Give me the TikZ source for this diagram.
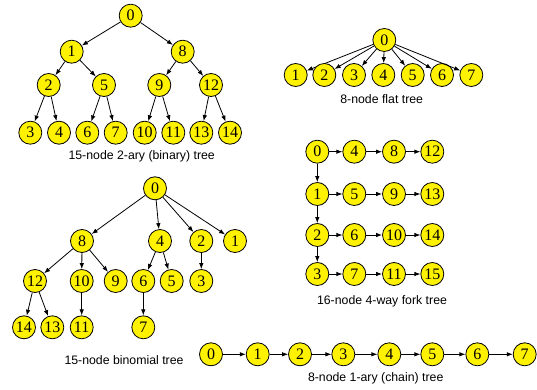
\documentclass[tikz,border=0pt]{standalone}
\usepackage{fontspec}
\setmainfont{Liberation Serif}
\setsansfont{Liberation Sans}
\usetikzlibrary{arrows.meta}
\tikzset{
  tn/.style={circle, draw=black, line width=0.8pt, fill=yellow, minimum size=23pt, inner sep=0pt, font=\fontsize{16}{16}\selectfont\rmfamily},
  captxt/.style={font=\fontsize{12.3}{14}\selectfont\sffamily, inner sep=0pt},
  ar/.style={-{Latex[length=6pt,width=4.5pt]}, line width=0.8pt}
}
\begin{document}
\begin{tikzpicture}[x=1pt,y=-1pt]
\useasboundingbox (0,0) rectangle (537,390);
% binary tree
\node[tn] (b0) at (130.7,15.7) {0};
\node[tn] (b1) at (71.7,51.7) {1};
\node[tn] (b8) at (182.7,51.7) {8};
\node[tn] (b2) at (48.7,85) {2};
\node[tn] (b5) at (104,85) {5};
\node[tn] (b9) at (159.3,85) {9};
\node[tn] (b12) at (211,85) {12};
\node[tn] (b3) at (30.3,132.7) {3};
\node[tn] (b4) at (59,132.7) {4};
\node[tn] (b6) at (87.3,132.7) {6};
\node[tn] (b7) at (115.7,132.7) {7};
\node[tn] (b10) at (144.7,132.7) {10};
\node[tn] (b11) at (173.3,132.7) {11};
\node[tn] (b13) at (201.3,132.7) {13};
\node[tn] (b14) at (230,132.7) {14};
\node[captxt] (bc) at (141.7,156.7) {15-node 2-ary (binary) tree};
\draw[ar] (b0) -- (b1); \draw[ar] (b0) -- (b8);
\draw[ar] (b1) -- (b2); \draw[ar] (b1) -- (b5);
\draw[ar] (b8) -- (b9); \draw[ar] (b8) -- (b12);
\draw[ar] (b2) -- (b3); \draw[ar] (b2) -- (b4);
\draw[ar] (b5) -- (b6); \draw[ar] (b5) -- (b7);
\draw[ar] (b9) -- (b10); \draw[ar] (b9) -- (b11);
\draw[ar] (b12) -- (b13); \draw[ar] (b12) -- (b14);
% flat tree
\node[tn] (f0) at (384.3,40) {0};
\foreach \i/\x in {1/295.7,2/324.3,3/354,4/383.3,5/412.7,6/442,7/471.3}{
  \node[tn] (f\i) at (\x,75) {\i};
  \draw[ar] (f0) -- (f\i);
}
\node[captxt] (fc) at (381.7,99.3) {8-node flat tree};
% fork tree
\foreach \r/\y in {0/151.7,1/194,2/235,3/274}{
  \foreach \c/\x in {0/317.3,1/354.3,2/394,3/432.3}{
    \pgfmathtruncatemacro{\lab}{\r+4*\c}
    \node[tn] (k\r\c) at (\x,\y) {\lab};
  }
  \draw[ar] (k\r0) -- (k\r1);
  \draw[ar] (k\r1) -- (k\r2);
  \draw[ar] (k\r2) -- (k\r3);
}
\draw[ar] (k00) -- (k10);
\draw[ar] (k10) -- (k20);
\draw[ar] (k20) -- (k30);
\node[captxt] (kc) at (382,301) {16-node 4-way fork tree};
% binomial tree
\node[tn] (n0) at (155,188.3) {0};
\node[tn] (n8) at (82,241) {8};
\node[tn] (n4) at (160,241) {4};
\node[tn] (n2) at (201.3,241) {2};
\node[tn] (n1) at (235,241) {1};
\node[tn] (n12) at (35,281) {12};
\node[tn] (n10) at (81.7,281) {10};
\node[tn] (n9) at (115.7,281) {9};
\node[tn] (n6) at (143.3,281) {6};
\node[tn] (n5) at (171.7,281) {5};
\node[tn] (n3) at (201.3,281) {3};
\node[tn] (n14) at (24,327.3) {14};
\node[tn] (n13) at (52.3,327.3) {13};
\node[tn] (n11) at (81.7,327.3) {11};
\node[tn] (n7) at (143.3,327.3) {7};
\node[captxt] (nc) at (124,360) {15-node binomial tree};
\draw[ar] (n0) -- (n8); \draw[ar] (n0) -- (n4); \draw[ar] (n0) -- (n2); \draw[ar] (n0) -- (n1);
\draw[ar] (n8) -- (n12); \draw[ar] (n8) -- (n10); \draw[ar] (n8) -- (n9);
\draw[ar] (n4) -- (n6); \draw[ar] (n4) -- (n5);
\draw[ar] (n2) -- (n3);
\draw[ar] (n12) -- (n14); \draw[ar] (n12) -- (n13);
\draw[ar] (n10) -- (n11);
\draw[ar] (n6) -- (n7);
% chain
\foreach \i/\x in {0/211,1/257.7,2/300,3/343.3,4/389.3,5/432.3,6/477.3,7/524.7}{
  \node[tn] (c\i) at (\x,354.3) {\i};
}
\foreach \i [count=\j from 1] in {0,...,6}{
  \draw[ar] (c\i) -- (c\j);
}
\node[captxt] (cc) at (375.7,378.7) {8-node 1-ary (chain) tree};
\end{tikzpicture}
\end{document}
